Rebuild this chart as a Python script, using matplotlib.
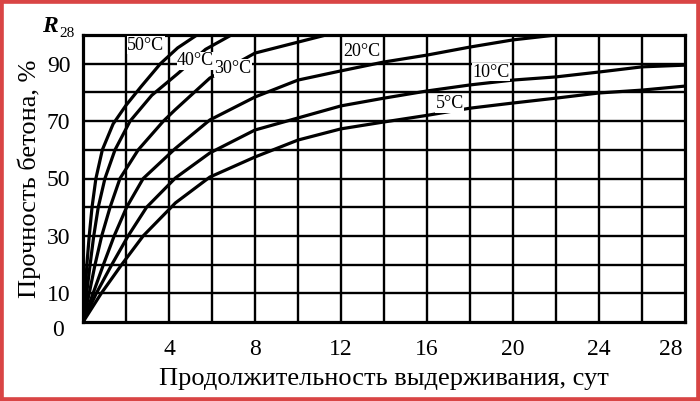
import matplotlib
matplotlib.use('Agg')
import matplotlib.pyplot as plt
import matplotlib.patches as mpatches
from matplotlib.transforms import ScaledTranslation

plt.rcParams['font.family'] = ['Liberation Serif', 'DejaVu Serif']

# values: days -> % of R28
days_50 = [0, 0.1, 0.18, 0.29, 0.42, 0.6, 0.9, 1.4, 2, 2.7, 3.6, 4.4, 5.3]
r_50 = [0, 10, 20, 30, 40, 50, 60, 69, 75.5, 82, 90, 95.5, 100]

days_40 = [0, 0.17, 0.33, 0.5, 0.71, 1.02, 1.49, 2.19, 3.2, 4.4, 5.7, 6.9]
r_40 = [0, 10, 20, 30, 40, 50, 60, 70, 79, 86.5, 95, 100]

days_30 = [0, 0.29, 0.56, 0.87, 1.26, 1.72, 2.57, 3.74, 4.28, 5.9, 8, 11.3]
r_30 = [0, 10, 20, 30, 40, 50, 60, 70, 73.9, 85, 93.7, 100]

days_20 = [0, 0.47, 0.95, 1.45, 2.03, 2.8, 4.3, 5.9, 8, 10, 12, 14, 16, 18, 20, 22]
r_20 = [0, 10, 20, 30, 40, 50, 60.5, 70.4, 78.4, 84.3, 87.5, 90.6, 93, 95.8, 98.3, 100]

days_10 = [0, 0.62, 1.34, 2.1, 2.96, 4.3, 5.9, 8, 10, 12, 14, 16, 18, 20, 22, 24, 26, 28]
r_10 = [0, 10, 20, 30, 40, 50.2, 58.9, 66.9, 71.1, 75.3, 78, 80.5, 82.6, 84.3, 85.4, 87.1, 88.9, 89.5]

days_5 = [0, 0.85, 1.8, 2.8, 4.3, 5.9, 8, 10, 12, 14, 16, 18, 20, 22, 24, 26, 28]
r_5 = [0, 10, 20, 30, 41.5, 50.5, 57.5, 63.4, 67.3, 69.7, 72, 74.5, 76.3, 78, 79.8, 80.8, 82.2]

curves = [
    (days_50, r_50, '50°C', 2.05, 96.5),
    (days_40, r_40, '40°C', 4.37, 91),
    (days_30, r_30, '30°C', 6.1, 88.5),
    (days_20, r_20, '20°C', 12.1, 94.2),
    (days_10, r_10, '10°C', 18.1, 87),
    (days_5, r_5, '5°C', 16.4, 76),
]

x_ticks = [4, 8, 12, 16, 20, 24, 28]
y_ticks = [0, 10, 30, 50, 70, 90]

figure = plt.figure(figsize=(7, 4.01), dpi=100, facecolor='white')
axes = figure.add_axes([83 / 700, 1 - 322 / 401, 602 / 700, 287 / 401])

axes.set_xlim(0, 28)
axes.set_ylim(0, 100)

for x in range(2, 28, 2):
    axes.axvline(x, color='black', linewidth=1.7, zorder=1)
for y in range(10, 100, 10):
    axes.axhline(y, color='black', linewidth=1.7, zorder=1)

for days, values, label, lx, ly in curves:
    axes.plot(days, values, color='black', linewidth=2.3,
              solid_joinstyle='round', solid_capstyle='round', zorder=2)
    axes.text(lx, ly, label, fontsize=13, va='center', ha='left', zorder=3,
              bbox=dict(facecolor='white', edgecolor='none', pad=0.2))

for spine in axes.spines.values():
    spine.set_linewidth(2.3)

axes.set_xticks(x_ticks, [str(t) for t in x_ticks], fontsize=17)
axes.set_yticks(y_ticks, [str(t) for t in y_ticks], fontsize=17)
axes.tick_params(axis='x', length=0, pad=12)
axes.tick_params(axis='y', length=0, pad=9)

labels = axes.get_xticklabels()
labels[-1].set_horizontalalignment('right')
labels[-1].set_transform(labels[-1].get_transform() + ScaledTranslation(-0.02, 0, figure.dpi_scale_trans))
zero = axes.get_yticklabels()[0]
zero.set_transform(zero.get_transform() + ScaledTranslation(-0.07, -0.06, figure.dpi_scale_trans))

axes.set_xlabel('Продолжительность выдерживания, сут', fontsize=19, labelpad=6)
axes.set_ylabel('Прочность бетона, %', fontsize=19, labelpad=4)

figure.text(42 / 700, 1 - 32 / 401, 'R', fontsize=17, style='italic', fontweight='bold')
figure.text(59 / 700, 1 - 37 / 401, '28', fontsize=11)

figure.patches.append(mpatches.Rectangle(
    (0, 0), 1, 1, transform=figure.transFigure, fill=False,
    edgecolor='#d94545', linewidth=5.5, zorder=10,
))

figure.savefig('out.png', dpi=100, facecolor='white')
plt.close()
